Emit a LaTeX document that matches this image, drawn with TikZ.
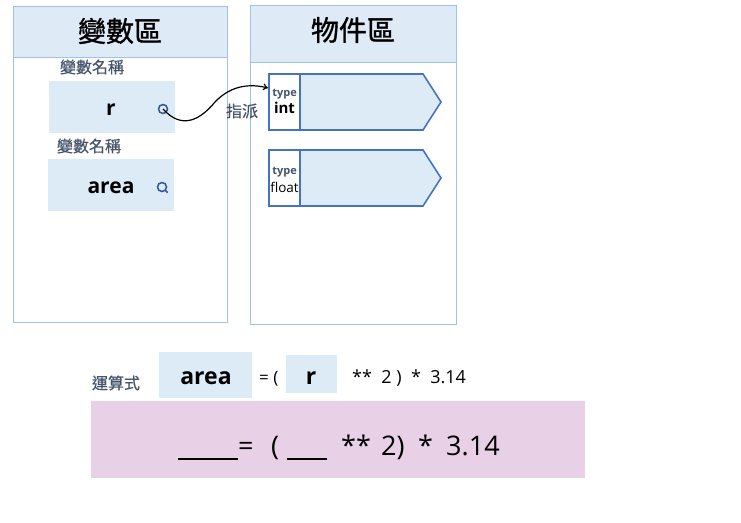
\documentclass[tikz,border=0pt]{standalone}
\usepackage{fontspec}
\usetikzlibrary{arrows.meta}
\setmainfont{Open Sans}
\newfontfamily\cjk[FakeBold=0.5]{Noto Sans CJK TC}
\newfontfamily\cjkhead[FakeBold=1.2]{Noto Sans CJK TC}
\definecolor{panelline}{HTML}{9DC3E6}
\definecolor{panelfill}{HTML}{DEEAF6}
\definecolor{boxfill}{HTML}{DDEBF7}
\definecolor{objline}{HTML}{4472C4}
\definecolor{labelgray}{HTML}{44546A}
\definecolor{exprfill}{HTML}{E8D0E6}
\definecolor{dotline}{HTML}{2F5597}
\newcommand{\fs}[1]{\fontsize{#1}{#1}\selectfont}
\tikzset{
  panel/.style={draw=panelline, line width=0.8pt},
  varbox/.style={fill=boxfill, draw=none},
  objpath/.style={draw=objline, line width=1.6pt, fill=boxfill},
  tag/.style={inner sep=0pt, text=labelgray},
  txt/.style={inner sep=0pt, anchor=base},
  bigtxt/.style={inner sep=0pt, anchor=base west, font=\fs{27}},
  refdot/.style={circle, draw=dotline, line width=1.5pt, minimum size=9pt, inner sep=0pt}
}
\begin{document}
\begin{tikzpicture}[x=1pt, y=-1pt]
\useasboundingbox (0,0) rectangle (741,522);

% variable area
\draw[panel] (13,6) rectangle (227,322);
\filldraw[panel, fill=panelfill] (13,6) rectangle (227,57);
\node[inner sep=0pt] (varhead) at (120,31) {\cjkhead\fs{28}變數區};
\node[tag] (rname) at (92,67) {\cjk\fs{16}變數名稱};
\fill[varbox] (49,81) rectangle (175,133);
\node[txt] (rvar) at (111,115) {\fs{21}\bfseries r};
\node[refdot] (rdot) at (163,109) {};
\node[tag] (areaname) at (89,146) {\cjk\fs{16}變數名稱};
\fill[varbox] (48,159) rectangle (174,211);
\node[txt] (areavar) at (111,193) {\fs{21}\bfseries area};
\node[refdot] (areadot) at (162,187) {};
\draw[dotline, line width=1.5pt] (areadot.south east) -- ++(2,2);

% object area
\draw[panel] (250,5) rectangle (456,324);
\filldraw[panel, fill=panelfill] (250,5) rectangle (456,62);
\node[inner sep=0pt] (objhead) at (353,30) {\cjkhead\fs{28}物件區};

% int object
\filldraw[objpath] (269,74) -- (423,74) -- (441,102) -- (423,130) -- (269,130) -- cycle;
\filldraw[objpath, fill=white] (269,74) rectangle (300,130);
\node[txt, text=labelgray] (inttype) at (284.5,96) {\fs{11}\bfseries type};
\node[txt] (intname) at (284.5,113) {\fs{15}\bfseries int};
\coordinate (intin) at (268,88);

% float object
\filldraw[objpath] (269,150) -- (423,150) -- (441,178) -- (423,206) -- (269,206) -- cycle;
\filldraw[objpath, fill=white] (269,150) rectangle (300,206);
\node[txt, text=labelgray] (floattype) at (284.5,174) {\fs{11}\bfseries type};
\node[txt] (floatname) at (284.5,192) {\fs{13.5}float};

% assignment
\draw[line width=1.2pt, -{To[length=5pt, width=7pt]}] (rdot.center) .. controls (182,130) and (200,120) .. (215,102) .. controls (232,84) and (252,84) .. (intin);
\node[tag] (assign) at (242,111) {\cjk\fs{16}指派};

% expression
\node[tag] (exprtag) at (116,383) {\cjk\fs{16}運算式};
\fill[varbox] (159,352) rectangle (252,398);
\node[txt] (exprarea) at (206,384) {\fs{23}\bfseries area};
\node[txt, anchor=base west] (eqsmall) at (259,383) {\fs{17}= (};
\fill[varbox] (286,355) rectangle (337,393);
\node[txt] (exprr) at (311,384) {\fs{23}\bfseries r};
\node[txt, anchor=base west] (powsmall) at (352,383) {\fs{18}**\ \ 2 )\ \ *\ \ 3.14};

% blank form
\fill[exprfill] (91,401) rectangle (585,478);
\coordinate (blankaleft) at (178,459);
\coordinate (blankaright) at (238,459);
\coordinate (blankrleft) at (287,459);
\coordinate (blankrright) at (327,459);
\draw[line width=1.3pt] (blankaleft) -- (blankaright);
\draw[line width=1.3pt] (blankrleft) -- (blankrright);
\node[bigtxt] (eqbig) at (238,455) {=};
\node[bigtxt] (lparbig) at (271,455) {(};
\node[bigtxt] (powbig) at (341,455) {**};
\node[bigtxt] (twobig) at (381,455) {2)};
\node[bigtxt] (mulbig) at (418,455) {*};
\node[bigtxt] (pibig) at (446,455) {3.14};
\end{tikzpicture}
\end{document}
